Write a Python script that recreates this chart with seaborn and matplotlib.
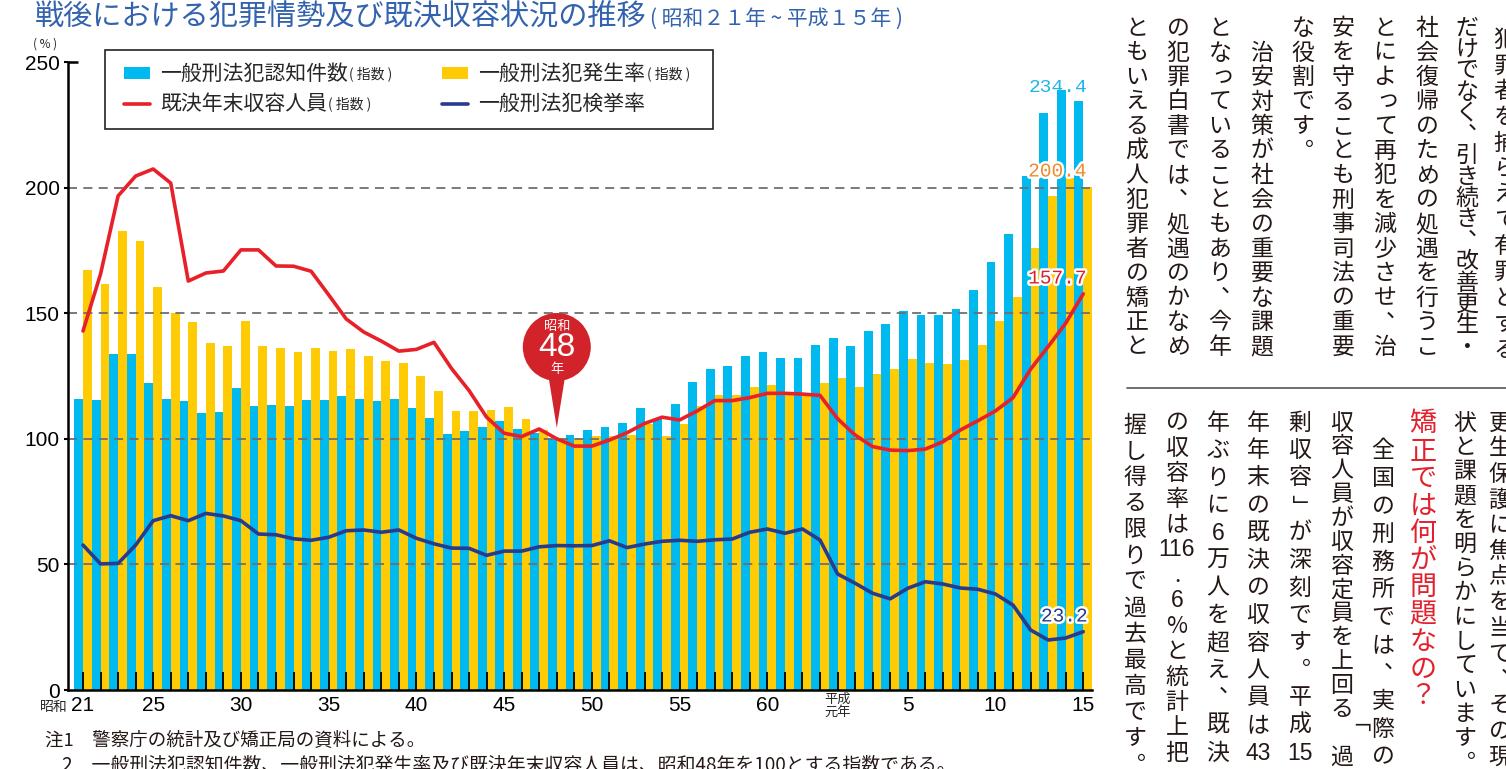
import re
import numpy as np
import pandas as pd
import matplotlib
matplotlib.use("Agg")
import matplotlib.pyplot as plt
import matplotlib.patheffects as pe
from matplotlib import font_manager
from matplotlib.lines import Line2D
from matplotlib.patches import Patch, Rectangle, Polygon, Circle
from matplotlib.transforms import IdentityTransform, blended_transform_factory
import seaborn as sns

W, H = 1506, 769

# 昭和21年 ～ 平成15年
years = [f"S{n}" for n in range(21, 64)] + [f"H{n}" for n in range(1, 16)]

# 一般刑法犯認知件数（指数）
ninchi = [116.0, 115.4, 133.8, 133.8, 122.2, 115.8, 115.0, 110.3, 110.7, 120.2,
          113.1, 113.5, 113.1, 115.4, 115.4, 117.0, 115.8, 115.0, 115.8, 112.3,
          108.3, 101.9, 103.1, 104.7, 107.1, 103.9, 102.3, 100.0, 101.4, 103.4,
          104.5, 106.2, 112.1, 107.9, 113.7, 122.6, 127.8, 129.0, 133.0, 134.5,
          132.2, 132.2, 137.3, 140.1, 136.9, 142.9, 145.7, 150.9, 149.3, 149.3,
          151.7, 159.2, 170.4, 181.5, 204.6, 229.8, 238.9, 234.4]
# 一般刑法犯発生率（指数）
hassei = [167.2, 161.6, 182.7, 178.7, 160.4, 150.1, 146.5, 138.1, 136.9, 146.9,
          136.9, 136.1, 134.6, 136.1, 135.0, 135.7, 133.0, 131.0, 130.2, 125.0,
          119.0, 111.1, 111.1, 111.5, 112.7, 107.9, 103.5, 100.0, 100.4, 101.0,
          101.2, 101.5, 105.9, 101.1, 105.9, 113.1, 117.4, 117.4, 120.6, 121.4,
          118.5, 118.0, 122.2, 124.2, 120.6, 125.8, 127.8, 131.8, 130.2, 129.8,
          131.4, 137.3, 146.9, 156.4, 176.0, 196.7, 203.8, 200.4]
# 既決年末収容人員（指数）
shuyo = [142.9, 165.6, 196.7, 204.6, 207.4, 201.8, 162.8, 166.0, 166.8, 175.2,
         175.2, 168.8, 168.7, 166.7, 157.3, 147.7, 142.5, 138.9, 134.9, 135.6,
         138.4, 128.0, 119.2, 108.6, 102.2, 100.9, 103.9, 100.0, 97.1, 97.1,
         99.5, 102.4, 106.1, 108.6, 107.5, 111.1, 115.2, 115.2, 116.4, 118.1,
         118.1, 117.8, 117.3, 108.0, 101.5, 96.9, 95.5, 95.3, 95.9, 98.8,
         103.5, 107.2, 111.1, 116.4, 127.7, 136.7, 146.0, 157.7]
# 一般刑法犯検挙率
kenkyo = [57.7, 50.2, 50.4, 57.7, 67.4, 69.4, 67.4, 70.3, 69.3, 67.4,
          62.1, 61.8, 60.2, 59.6, 60.8, 63.4, 63.7, 62.8, 63.7, 60.4,
          58.2, 56.5, 56.4, 53.6, 55.3, 55.3, 57.0, 57.5, 57.4, 57.5,
          59.4, 56.7, 58.1, 59.2, 59.6, 59.2, 59.8, 60.1, 62.8, 64.1,
          62.4, 64.1, 59.7, 46.2, 42.5, 38.5, 36.3, 40.5, 43.1, 42.2,
          40.6, 40.1, 38.2, 33.8, 23.9, 19.9, 20.7, 23.2]

tick_years = ["S21", "S25", "S30", "S35", "S40", "S45", "S50", "S55", "S60",
              "H1", "H5", "H10", "H15"]
tick_labels = ["21", "25", "30", "35", "40", "45", "50", "55", "60", "", "5", "10", "15"]
y_ticks = [0, 50, 100, 150, 200, 250]
grid_levels = [50, 100, 150, 200]

labels = ["一般刑法犯認知件数", "一般刑法犯発生率", "既決年末収容人員", "一般刑法犯検挙率"]

CYAN, YELLOW, RED, NAVY = "#00b9ef", "#ffcb05", "#e8202a", "#283b8c"
TITLE = "#3363ae"
INK = "#231815"

sns.set_theme(style="white")
JP = ["Noto Sans CJK JP", "DejaVu Sans"]
plt.rcParams["font.family"] = JP


def has_font(name):
    try:
        font_manager.findfont(name, fallback_to_default=False)
        return True
    except Exception:
        return False


NUM = "Liberation Sans Narrow" if has_font("Liberation Sans Narrow") else "Liberation Sans"

fig = plt.figure(figsize=(W / 100, H / 100), dpi=100)
ax = fig.add_axes([68 / W, 1 - 690 / H, (1092 - 68) / W, (690 - 62) / H])

df = pd.DataFrame({
    "year": years * 2,
    "series": [labels[0]] * len(years) + [labels[1]] * len(years),
    "value": ninchi + hassei,
})
sns.barplot(data=df, x="year", y="value", hue="series", order=years,
            hue_order=labels[:2], palette=[CYAN, YELLOW], width=1.0, gap=0,
            saturation=1, errorbar=None, legend=False, edgecolor="none",
            linewidth=0, ax=ax)

for g in grid_levels:
    ax.axhline(g, color="#6f6f6f", lw=1.3, ls=(0, (5, 3.5)), zorder=1.5)

sns.lineplot(x=years, y=shuyo, color=RED, linewidth=2.6, sort=False, ax=ax, zorder=4)
sns.lineplot(x=years, y=kenkyo, color=NAVY, linewidth=2.6, sort=False, ax=ax, zorder=4)

ax.set_axisbelow(False)
ax.set_xlim(-0.855, 57.5)
ax.set_ylim(0, 250)
ax.set_xlabel("")
ax.set_ylabel("")
for s in ["top", "right"]:
    ax.spines[s].set_visible(False)
for s in ["left", "bottom"]:
    ax.spines[s].set_color("black")
    ax.spines[s].set_linewidth(1.8)
    ax.spines[s].set_zorder(5)

ax.set_xticks([years.index(y) for y in tick_years], labels=tick_labels)
ax.set_xticks(range(len(years)), minor=True)
ax.tick_params(axis="x", which="both", bottom=True, direction="in", length=13,
               width=1.3, color="black", pad=4, labelsize=15, labelfontfamily=NUM)
ax.set_yticks(y_ticks)
ax.tick_params(axis="y", left=True, direction="out", length=3, width=1.5,
               color="black", pad=3, labelsize=15, labelfontfamily=NUM)
ax.tick_params(axis="both", labelcolor="black")
blend = blended_transform_factory(ax.transAxes, ax.transData)
ax.plot([0, 0.01], [250, 250], transform=blend, color="black", lw=1.8,
        clip_on=False, solid_capstyle="butt")

# small axis texts
ax.annotate("昭和", xy=("S21", 0), xycoords=("data", "axes fraction"),
            xytext=(-21, -12.5), textcoords="offset points", ha="center",
            va="center", fontsize=10, annotation_clip=False)
ax.annotate("平成\n元年", xy=("H1", 0), xycoords=("data", "axes fraction"),
            xytext=(0, -11.5), textcoords="offset points", ha="center",
            va="center", fontsize=9.5, linespacing=1.0, annotation_clip=False)
fig.text(45 / W, 1 - 44 / H, "( % )", fontsize=8.5, ha="center", va="center")

# end value labels
outline = [pe.withStroke(linewidth=3.5, foreground="white")]
ends = [(ninchi, "#1bb5ea", -18.5, 10.0, False),
        (hassei, "#f08a2a", -18.5, 10.5, True),
        (shuyo, "#d9202c", -18.5, 10.7, True),
        (kenkyo, NAVY, -13.5, 10.6, True)]
for series, col, dx, dy, stroke in ends:
    t = ax.annotate(f"{series[-1]:.1f}", xy=(years[-1], series[-1]), xytext=(dx, dy),
                    textcoords="offset points", ha="center", va="center",
                    fontsize=14, color=col, family="Liberation Mono",
                    annotation_clip=False, zorder=6)
    if stroke:
        t.set_path_effects(outline)

# legend
handles = [Patch(facecolor=CYAN, edgecolor="none"),
           Line2D([], [], color=RED, lw=2.6),
           Patch(facecolor=YELLOW, edgecolor="none"),
           Line2D([], [], color=NAVY, lw=2.6)]
leg_labels = [labels[0], labels[2], labels[1], labels[3]]
leg = fig.legend(handles, leg_labels, ncols=2, loc="upper left",
                 bbox_to_anchor=(124 / W, 1 - 63 / H), frameon=False,
                 borderpad=0, borderaxespad=0, fontsize=15, handlelength=1.25,
                 handleheight=0.5, handletextpad=0.5, columnspacing=4.5,
                 labelspacing=0.4)
fig.add_artist(Rectangle((105 / W, 1 - 129 / H), (713 - 105) / W, (129 - 50) / H,
                         transform=fig.transFigure, fill=False,
                         edgecolor="#222222", lw=1.2))

# title
title = fig.text(35 / W, 1 - 18 / H, "戦後における犯罪情勢及び既決収容状況の推移",
                 fontsize=21, color=TITLE, ha="left", va="center")

fig.canvas.draw()
for t in leg.get_texts()[:3]:
    bb = t.get_window_extent()
    fig.text((bb.x1 + 1) / W, (bb.y0 + 7) / H, "( 指数 )", fontsize=10,
             ha="left", va="baseline")
bb = title.get_window_extent()
fig.text((bb.x1 + 3) / W, (bb.y0 + 8) / H, "( 昭和２１年 ~ 平成１５年 )",
         fontsize=15, color=TITLE, ha="left", va="baseline")

# 昭和48年 pin
tip = ax.transData.transform((years.index("S48"), 104.3))
cx, cy = tip[0], tip[1] + 81
pin_red = "#d2232a"
fig.add_artist(Polygon([(cx - 9, cy - 25), (cx + 9, cy - 25), (tip[0], tip[1])],
                       closed=True, facecolor=pin_red, edgecolor="none",
                       transform=IdentityTransform(), zorder=7))
fig.add_artist(Circle((cx, cy), 34, facecolor=pin_red, edgecolor="none",
                      transform=IdentityTransform(), zorder=7))
fig.text(cx / W, (cy + 20) / H, "昭和", fontsize=9.5, color="white", ha="center",
         va="center", zorder=8)
fig.text(cx / W, (cy - 1) / H, "48", fontsize=24, color="white", ha="center",
         va="center", family="Liberation Sans", zorder=8)
fig.text(cx / W, (cy - 23) / H, "年", fontsize=9.5, color="white", ha="center",
         va="center", zorder=8)

# notes
fig.text(45 / W, 1 - 741 / H, "注1　警察庁の統計及び矯正局の資料による。",
         fontsize=13.3, ha="left", va="center", color=INK)
fig.text(62 / W, 1 - 765 / H,
         "2　一般刑法犯認知件数、一般刑法犯発生率及び既決年末収容人員は、昭和48年を100とする指数である。",
         fontsize=13.6, ha="left", va="center", color=INK)


# vertical body text on the right
def vcolumn(x, y0, text, y1=None, pitch=24.5, size=16.5, color=INK):
    toks = re.findall(r"\d+|.", text)
    n = len(toks)
    if y1 is not None and n > 1:
        pitch = (y1 - y0) / (n - 1)
    em = size * 100 / 72
    for k, t in enumerate(toks):
        y = y0 + k * pitch
        dx = dy = 0.0
        rot = 0
        fam = JP
        if t in "、。":
            dx, dy = 0.55 * em, -0.55 * em
        elif t in "っゃゅょ":
            dx, dy = 0.1 * em, -0.1 * em
        elif t in "「」":
            rot = -90
        elif t.isdigit():
            fam = ["Liberation Sans"]
        fig.text((x + dx) / W, 1 - (y + dy) / H, t, fontsize=size, color=color,
                 ha="center", va="center", rotation=rot, family=fam)


top_cols = [
    (1505, "犯罪者を捕らえて有罪とする", 40, 350),
    (1467, "だけでなく、引き続き、改善更生・", 28.5, 347),
    (1427, "社会復帰のための処遇を行うこ", 28.5, 347),
    (1385, "とによって再犯を減少させ、治", 28.5, 347),
    (1343, "安を守ることも刑事司法の重要", 28.5, 347),
    (1303, "な役割です。", 28.5, None),
    (1262, "　治安対策が社会の重要な課題", 28.5, 347),
    (1220, "となっていることもあり、今年", 28.5, 347),
    (1178, "の犯罪白書では、処遇のかなめ", 28.5, 347),
    (1137, "ともいえる成人犯罪者の矯正と", 28.5, 347),
]
for x, s, y0, y1 in top_cols:
    vcolumn(x, y0, s, y1)

bottom_cols = [
    (1500, "更生保護に焦点を当て、その現", 423, 757),
    (1465, "状と課題を明らかにしています。", 423, None),
    (1383, "　全国の刑務所では、実際の", 423, 757),
    (1342, "収容人員が収容定員を上回る「過", 423, 757),
    (1300, "剰収容」が深刻です。平成15", 423, 753),
    (1258, "年年末の既決の収容人員は43", 423, 753),
    (1218, "年ぶりに6万人を超え、既決", 423, 753),
    (1177, "の収容率は116.6%と統計上把", 423, 753),
    (1135, "握し得る限りで過去最高です。", 425, 765),
]
for x, s, y0, y1 in bottom_cols:
    vcolumn(x, y0, s, y1, pitch=24.3)
vcolumn(1423, 424, "矯正では何が問題なの？", None, pitch=27.3, size=19.5, color="#e3212d")

fig.add_artist(Line2D([1127 / W, 1], [1 - 388 / H, 1 - 388 / H],
                      transform=fig.transFigure, color="#555555", lw=1.2))

fig.savefig("out.png", dpi=100)
